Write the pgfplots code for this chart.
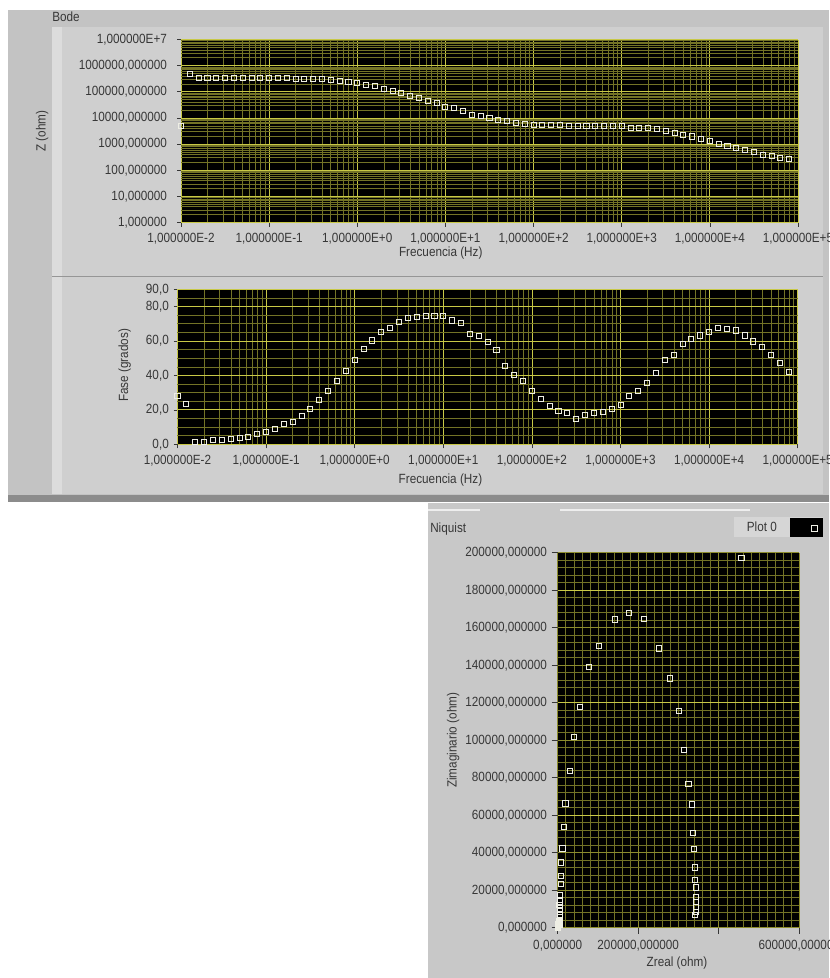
\documentclass[border=0pt]{standalone}
\usepackage{fontspec}
\setmainfont{Liberation Sans}[FakeStretch=0.88]
\usepackage{pgfplots}
\pgfplotsset{compat=1.18}

\definecolor{outergray}{RGB}{195,195,195}
\definecolor{panelgray}{RGB}{207,207,207}
\definecolor{stripgray}{RGB}{220,220,220}
\definecolor{sepgray}{RGB}{150,150,150}
\definecolor{bandgray}{RGB}{140,140,140}
\definecolor{nyqgray}{RGB}{200,200,200}
\definecolor{leggray}{RGB}{214,214,214}
\definecolor{gridmaj}{RGB}{200,200,70}
\definecolor{gridmin}{RGB}{115,115,38}
\definecolor{gridmed}{RGB}{140,140,45}
\definecolor{txt}{RGB}{55,55,55}
\definecolor{markc}{RGB}{238,238,228}

\newcommand{\lvfont}{\fontsize{10}{12}\selectfont}

\pgfplotsset{
  lv/.style={
    scale only axis, anchor=south west,
    axis background/.style={fill=black},
    axis line style={draw=none},
    grid=both,
    major grid style={draw=gridmaj, line width=0.55pt},
    minor grid style={draw=gridmin, line width=0.45pt},
    tick align=outside, tick pos=left,
    major tick length=3pt, minor tick length=0pt,
    tick style={draw=txt, line width=0.5pt},
    ticklabel style={text=txt, font=\lvfont},
    xticklabel style={yshift=-1.5pt},
    label style={text=txt, font=\lvfont},
    scaled ticks=false,
  },
  lvmark/.style={only marks, mark=square, mark size=1.9pt,
    mark options={draw=markc, fill=none, line width=0.7pt}},
}

\pgfplotstableread{
x y
1e-2 4.9e3
1.2589e-2 4.9e5
1.5849e-2 3.47e5
1.9953e-2 3.45e5
2.5119e-2 3.45e5
3.1623e-2 3.45e5
3.9811e-2 3.45e5
5.0119e-2 3.45e5
6.3096e-2 3.45e5
7.9433e-2 3.45e5
1e-1 3.45e5
1.2589e-1 3.42e5
1.5849e-1 3.42e5
1.9953e-1 3.2e5
2.5119e-1 3.18e5
3.1623e-1 3.16e5
3.9811e-1 3.14e5
5.0119e-1 2.75e5
6.3096e-1 2.51e5
7.9433e-1 2.34e5
1 2.09e5
1.2589 1.86e5
1.5849 1.66e5
1.9953 1.32e5
2.5119 1.07e5
3.1623 8.7e4
3.9811 6.9e4
5.0119 5.6e4
6.3096 4.3e4
7.9433 3.6e4
10 2.7e4
12.589 2.4e4
15.849 1.82e4
19.953 1.32e4
25.119 1.23e4
31.623 1.0e4
39.811 8.3e3
50.119 7.6e3
63.096 6.2e3
79.433 5.75e3
100 5.4e3
125.89 5.25e3
158.49 5.25e3
199.53 5.25e3
251.19 4.95e3
316.23 4.95e3
398.11 4.95e3
501.19 4.9e3
630.96 4.9e3
794.33 4.9e3
1000 4.9e3
1258.9 4.27e3
1584.9 4.27e3
1995.3 4.17e3
2511.9 3.72e3
3162.3 3.09e3
3981.1 2.63e3
5011.9 2.29e3
6309.6 1.95e3
7943.3 1.51e3
10000 1.29e3
12589 1.05e3
15849 871
19953 692
25119 575
31623 501
39811 398
50119 363
63096 295
79433 263
}\magtable

\pgfplotstableread{
x y
1e-2 28.3
1.2589e-2 23.4
1.5849e-2 1.6
1.9953e-2 1.2
2.5119e-2 2.5
3.1623e-2 2.5
3.9811e-2 2.9
5.0119e-2 3.5
6.3096e-2 4.5
7.9433e-2 5.8
1e-1 7.4
1.2589e-1 8.7
1.5849e-1 11.6
1.9953e-1 13.0
2.5119e-1 16.7
3.1623e-1 20.7
3.9811e-1 25.8
5.0119e-1 31.0
6.3096e-1 37.0
7.9433e-1 42.8
1 49.0
1.2589 55.4
1.5849 60.3
1.9953 65.1
2.5119 67.8
3.1623 71.3
3.9811 73.6
5.0119 73.8
6.3096 74.6
7.9433 74.6
10 74.6
12.589 71.9
15.849 70.7
19.953 64.1
25.119 63.0
31.623 59.3
39.811 54.7
50.119 45.5
63.096 40.3
79.433 36.8
100 31.2
125.89 26.4
158.49 22.3
199.53 19.4
251.19 18.4
316.23 14.7
398.11 17.1
501.19 18.0
630.96 18.6
794.33 20.5
1000 22.9
1258.9 28.1
1584.9 31.2
1995.3 35.5
2511.9 41.3
3162.3 49.0
3981.1 51.7
5011.9 58.3
6309.6 61.4
7943.3 63.2
10000 65.1
12589 67.8
15849 66.9
19953 66.1
25119 63.2
31623 59.7
39811 56.4
50119 51.9
63096 47.1
79433 42.2
}\phasetable

\pgfplotstableread{
x y
456000 197300
177700 168000
143000 164400
214900 164800
102500 150400
251000 149000
77700 139200
279000 133000
55400 117900
301700 115700
40500 101900
314000 94800
30600 83700
324800 76600
19000 66300
333000 65800
15700 53900
336000 50700
11600 42300
338000 42000
8300 34800
340500 32200
8300 27700
340500 25400
8300 23300
343000 21500
5800 17400
343000 16500
343000 13900
343000 11200
343000 8500
341000 6800
5000 14000
4500 12000
4800 10200
5000 8600
4800 6800
5400 5400
4800 4100
4600 3400
4500 2800
4700 2000
4800 1700
4400 2100
3800 2200
3000 2100
2000 1700
1300 1300
900 1000
600 700
350 500
250 350
150 200
}\nyqtable

\begin{document}
\begin{tikzpicture}
\useasboundingbox (0pt,0pt) rectangle (621.75pt,-733.5pt);
\begin{scope}[x=0.75pt,y=-0.75pt]
  \fill[white] (0,0) rectangle (829,978);
  \fill[outergray] (8,10) rectangle (829,496);
  \fill[bandgray] (8,495) rectangle (829,502);
  \fill[panelgray] (52,27) rectangle (823,494);
  \fill[stripgray] (52,27) rectangle (62,494);
  \draw[sepgray, line width=0.75pt] (52,276) -- (823,276);
  \fill[nyqgray] (428,503) rectangle (829,978);
  \draw[white!70!nyqgray, line width=1pt] (428,510) -- (480,510);
  \draw[white!70!nyqgray, line width=1pt] (560,510) -- (750,510);
  \node[anchor=west, text=txt, font=\lvfont, inner sep=0pt] at (52,17) {Bode};
  \node[anchor=west, text=txt, font=\lvfont, inner sep=0pt] at (430,529) {Niquist};
\end{scope}

% ---------------- Bode magnitude ----------------
\begin{axis}[lv,
  at={(135.75pt,-166.875pt)},
  width=462.75pt, height=137.25pt,
  xmode=log, ymode=log,
  xmin=1e-2, xmax=1e5, ymin=1, ymax=1e7,
  xtick={1e-2,1e-1,1,10,100,1000,10000,100000},
  xticklabels={{1,000000E-2},{1,000000E-1},{1,000000E+0},{1,000000E+1},{1,000000E+2},{1,000000E+3},{1,000000E+4},{1,000000E+5}},
  minor xtick={0.02,0.03,0.04,0.05,0.06,0.07,0.08,0.09,0.2,0.3,0.4,0.5,0.6,0.7,0.8,0.9,2,3,4,5,6,7,8,9,20,30,40,50,60,70,80,90,200,300,400,500,600,700,800,900,2000,3000,4000,5000,6000,7000,8000,9000,20000,30000,40000,50000,60000,70000,80000,90000},
  ytick={1,10,100,1000,10000,100000,1000000,10000000},
  yticklabels={{1,000000},{10,000000},{100,000000},{1000,000000},{10000,000000},{100000,000000},{1000000,000000},{1,000000E+7}},
  yticklabel style={xshift=-4pt},
  minor ytick={2,3,4,5,6,7,8,9,20,30,40,50,60,70,80,90,200,300,400,500,600,700,800,900,2000,3000,4000,5000,6000,7000,8000,9000,20000,30000,40000,50000,60000,70000,80000,90000,200000,300000,400000,500000,600000,700000,800000,900000,2000000,3000000,4000000,5000000,6000000,7000000,8000000,9000000},
  xlabel={Frecuencia (Hz)},
  xlabel style={at={(axis description cs:0.421,-0.167)}, anchor=center},
  ylabel={Z (ohm)},
  ylabel style={at={(axis description cs:-0.225,0.5)}, anchor=center},
]
\addplot[lvmark] table[x=x,y=y] {\magtable};
\end{axis}

% ---------------- Bode phase ----------------
\begin{axis}[lv,
  at={(133.125pt,-333.225pt)},
  width=465.15pt, height=116.25pt,
  xmode=log,
  xmin=1e-2, xmax=1e5, ymin=0, ymax=90,
  xtick={1e-2,1e-1,1,10,100,1000,10000,100000},
  xticklabels={{1,000000E-2},{1,000000E-1},{1,000000E+0},{1,000000E+1},{1,000000E+2},{1,000000E+3},{1,000000E+4},{1,000000E+5}},
  minor xtick={0.02,0.03,0.04,0.05,0.06,0.07,0.08,0.09,0.2,0.3,0.4,0.5,0.6,0.7,0.8,0.9,2,3,4,5,6,7,8,9,20,30,40,50,60,70,80,90,200,300,400,500,600,700,800,900,2000,3000,4000,5000,6000,7000,8000,9000,20000,30000,40000,50000,60000,70000,80000,90000},
  ytick={0,20,40,60,80,90},
  yticklabels={{0,0},{20,0},{40,0},{60,0},{80,0},{90,0}},
  minor ytick={5,10,15,25,30,35,45,50,55,65,70,75,85},
  xlabel={Frecuencia (Hz)},
  xlabel style={at={(axis description cs:0.424,-0.23)}, anchor=center},
  ylabel={Fase (grados)},
  ylabel style={at={(axis description cs:-0.085,0.51)}, anchor=center},
]
\addplot[lvmark] table[x=x,y=y] {\phasetable};
\end{axis}

% ---------------- Nyquist ----------------
\begin{axis}[lv,
  at={(418.275pt,-695.775pt)},
  width=181.2pt, height=281.25pt,
  xmin=0, xmax=600000, ymin=0, ymax=200000,
  xtick={0,200000,400000,600000},
  xticklabels={{0,000000},{200000,000000},{},{600000,000000}},
  minor x tick num=9,
  ytick={0,20000,40000,60000,80000,100000,120000,140000,160000,180000,200000},
  yticklabels={{0,000000},{20000,000000},{40000,000000},{60000,000000},{80000,000000},{100000,000000},{120000,000000},{140000,000000},{160000,000000},{180000,000000},{200000,000000}},
  minor y tick num=4,
  major tick length=4.5pt,
  major grid style={draw=gridmed, line width=0.55pt},
  minor grid style={draw=gridmin, line width=0.45pt},
  extra y ticks={60000,120000,180000},
  extra y tick labels={},
  extra y tick style={grid=major, major grid style={draw=gridmaj, line width=0.8pt}, major tick length=0pt},
  xlabel={Zreal (ohm)},
  xlabel style={at={(axis description cs:0.494,-0.094)}, anchor=center},
  ylabel={Zimaginario (ohm)},
  ylabel style={at={(axis description cs:-0.433,0.5)}, anchor=center},
  legend plot pos=right,
  legend style={at={(axis description cs:1.098,1.095)}, anchor=north east,
    fill=leggray, draw=none, inner sep=0pt,
    font=\lvfont, text=txt,
    nodes={inner xsep=10pt, inner ysep=3pt}},
  legend image code/.code={%
    \fill[black] (-2pt,-6.5pt) rectangle (22pt,6.5pt);
    \draw[#1] plot coordinates {(16pt,-1pt)};},
]
\addplot[lvmark, mark size=2pt] table[x=x,y=y] {\nyqtable};
\addlegendentry{Plot 0}
\end{axis}
\end{tikzpicture}
\end{document}
